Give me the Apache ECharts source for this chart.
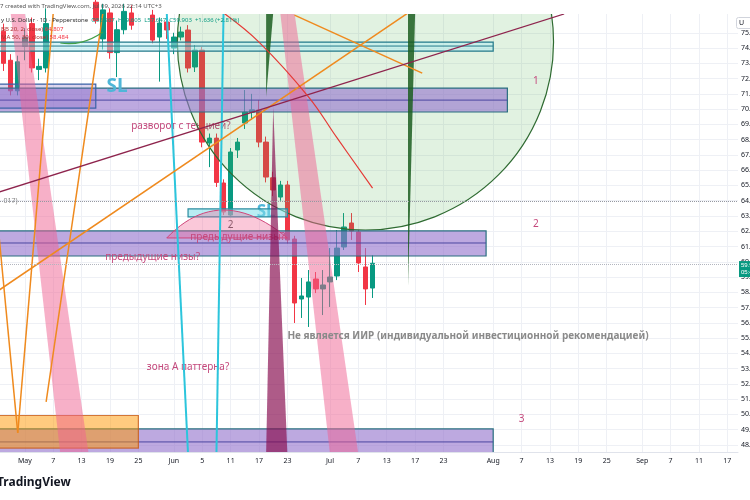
<!DOCTYPE html>
<html>
<head>
<meta charset="utf-8">
<title>U.S. Dollar 1D</title>
<script src="https://cdn.jsdelivr.net/npm/echarts@6.0.0/dist/echarts.min.js"></script>
<style>
html,body{margin:0;padding:0;background:#fff;}
#myChart{width:750px;height:500px;}
</style>
</head>
<body>
<div id="myChart"></div>
<script type="text/javascript">
// time scale: trading days only, starting Apr 28 2026
var firstDay = Date.UTC(2026, 3, 28);
var dayCount = 104;
var tickDates  = ['2026-05-01','2026-05-07','2026-05-13','2026-05-19','2026-05-25','2026-06-01','2026-06-05','2026-06-11','2026-06-17','2026-06-23','2026-07-01','2026-07-07','2026-07-13','2026-07-17','2026-07-23','2026-08-03','2026-08-07','2026-08-13','2026-08-19','2026-08-25','2026-09-01','2026-09-07','2026-09-11','2026-09-17'];
var tickLabels = ['May','7','13','19','25','Jun','5','11','17','23','Jul','7','13','17','23','Aug','7','13','19','25','Sep','7','11','17'];
var priceTicks = [48,49,50,51,52,53,54,55,56,57,58,59,60,61,62,63,64,65,66,67,68,69,70,71,72,73,74,75];

// daily candles [open, close, low, high]
var candles = [
	[75.1,73.0,72.5,75.6],[73.2,71.2,70.9,73.6],[71.2,73.1,70.9,73.5],[74.1,74.7,73.2,75.3],
	[75.6,72.7,72.4,76.0],[72.6,72.8,71.9,73.3],[72.7,75.6,72.4,76.6],[76.5,77.2,76.4,77.8],
	[77.2,76.6,76.4,78.0],[76.6,78.1,76.4,78.6],[78.1,77.4,77.0,78.8],[77.4,76.8,76.5,77.9],
	[76.8,77.5,76.4,78.0],[77.0,75.8,75.6,77.4],[74.6,76.5,73.9,76.9],[76.3,73.7,73.3,76.6],
	[73.7,75.2,72.1,75.8],[75.2,76.4,74.9,76.9],[76.3,75.5,75.2,76.8],[76.4,76.9,76.3,77.3],
	[77.0,76.3,76.25,77.3],[76.16,74.52,74.3,76.5],[74.72,75.64,71.8,76.0],[75.7,75.18,74.6,76.1],
	[74.0,74.72,73.6,75.0],[74.72,75.05,74.5,75.4],[75.18,72.69,72.4,75.5],[72.76,73.87,72.43,74.2],
	[73.87,67.84,67.5,74.07],[67.78,68.1,66.2,68.4],[68.1,65.2,64.9,68.4],[65.16,63.26,63.06,65.4],
	[63.06,67.19,63.0,67.45],[67.32,67.84,66.8,68.11],[69.09,69.8,68.7,71.25],[69.8,69.95,69.3,71.0],
	[69.94,67.84,67.5,70.6],[67.84,65.55,65.2,68.2],[65.5,64.7,64.3,65.9],[64.24,65.03,64.0,65.3],
	[65.03,61.43,61.2,65.3],[61.49,57.3,55.99,61.7],[57.56,57.76,56.32,58.94],[57.69,58.68,55.73,59.46],
	[58.87,58.22,57.95,59.33],[58.22,58.48,56.51,59.46],[58.68,59.0,57.04,60.9],[59.07,60.9,58.8,62.08],
	[60.97,62.28,60.77,63.19],[62.54,62.02,61.43,63.19],[61.95,59.92,59.33,62.08],[59.66,58.22,57.17,60.9],
	[58.28,59.9,57.63,60.44]
];
var lastPrice = 59.903;
var bbUpper = 64.807;
var dottedLevel = 63.98;

// drawings, points as [bar index, price]
var circleCenter = [51.1, 74.4];
var circleEdge   = [51.1, 62.08];
var tealStrip    = [-2, 74.39, 69.26, 73.80, 74.13];
var purpleBoxes  = [[-2, 71.38, 71.37, 69.81, 70.59], [-2, 62.02, 68.27, 60.38, 61.23], [-2, 49.05, 69.26, 46.5, 48.20]];
var slBox        = [-2, 71.64, 13.17, 70.07];
var slSmallBox   = [26.13, 63.46, 40.09, 62.94];
var orangeBox    = [-2, 49.93, 19.23, 47.80];
var pinkBands    = [[[0.63,76.3],[3.02,76.3],[12.18,47.4],[7.96,47.4]], [[39.38,76.3],[41.07,76.3],[49.95,47.4],[46.0,47.4]]];
var maroonBand   = [[38.25,70.14],[40.37,47.4],[37.27,47.4]];
var greenBars    = [[[36.84,76.3],[37.83,76.3],[37.35,70.79],[37.2,70.79]], [[56.86,76.3],[58.12,76.3],[57.35,58.48],[57.2,58.48]]];
var pinkArc      = [[23.18,61.56],[31.49,63.39],[39.66,61.56]];
var cyanLines    = [[[22.89,76.3],[26.28,47.4]], [[31.29,76.3],[29.76,47.4]]];
var orangeLines  = [[[2.18,48.79],[-1.91,68.37]], [[2.18,48.79],[6.83,76.3]], [[6.26,50.82],[13.59,76.3]], [[-1.91,57.71],[57.42,76.3]], [[40.79,76.16],[59.11,72.36]]];
var maroonLine   = [[-1.91,64.37],[79.4,76.23]];
var redCurve     = [[31.2,76.3],[36.14,74.39],[42.76,70.79],[47.41,68.11],[52.35,64.83]];
var bbCurve      = [[8.24,74.33],[10.77,74.39],[13.59,75.05]];

// notes
var coveredNote = [25.3,68.89,'разворот с тенцией?'];
var notes      = [[32.9,61.62,'предыдущие низы?'],[20.92,60.31,'предыдущие низы?'],[26.0,53.11,'зона А паттерна?']];
var zoneMarks  = [[75.18,71.84,'1'],[74.9,62.47,'2'],[72.78,49.70,'3']];
var slMarks    = [[16.13,71.45,'SL'],[36.7,63.26,'SL']];
var smallTwo   = [31.77,62.41,'2'];
var disclaimer = [40.4,55.14,'Не является ИИР (индивидуальной инвестиционной рекомендацией)'];
var oldLabel   = [-0.5,63.98,'017)'];

var days = [];
var cur = new Date(firstDay);
while (days.length < dayCount)
{
	var wd = cur.getUTCDay();
	if (wd !== 0 && wd !== 6) days.push(cur.toISOString().slice(0, 10));
	cur.setUTCDate(cur.getUTCDate() + 1);
}
var tickMap = {};
tickDates.forEach(function (d, i) { tickMap[d] = tickLabels[i]; });

var FONT = '"Noto Sans", "DejaVu Sans", sans-serif';

function textEl(api, t, color, font, align)
{
	var p = api.coord([t[0], t[1]]);
	return {type:'text', x:p[0], y:p[1], style:{text:t[2], fill:color, font:font, align:align || 'center', verticalAlign:'middle'}};
}
function rectEl(api, b, fill, stroke)
{
	var a = api.coord([b[0], b[1]]), z = api.coord([b[2], b[3]]);
	return {type:'rect', shape:{x:a[0], y:a[1], width:z[0]-a[0], height:z[1]-a[1]}, style:{fill:fill, stroke:stroke, lineWidth:1.2}};
}
function hLineEl(api, x1, x2, v, color)
{
	var a = api.coord([x1, v]), z = api.coord([x2, v]);
	return {type:'line', shape:{x1:a[0], y1:a[1], x2:z[0], y2:a[1]}, style:{stroke:color, lineWidth:1}};
}
function polyEl(api, pts, fill)
{
	return {type:'polygon', shape:{points:pts.map(function (p) { return api.coord(p); })}, style:{fill:fill}};
}
function lineEl(api, pts, color, width, smooth)
{
	return {type:'polyline', shape:{points:pts.map(function (p) { return api.coord(p); }), smooth:smooth || 0}, style:{stroke:color, lineWidth:width, fill:null}};
}

// texts that candles cover
function drawLowNotes(params, api)
{
	var kids = [];
	kids.push(textEl(api, coveredNote, '#c4497c', '10px ' + FONT));
	kids.push(textEl(api, slMarks[1], '#4fb6d8', 'bold 17px ' + FONT));
	kids.push(textEl(api, smallTwo, '#555', '10px ' + FONT));
	kids.push(textEl(api, oldLabel, '#888', '7px ' + FONT, 'left'));
	return {type:'group', children:kids};
}

// chart drawings above candles
function drawShapes(params, api)
{
	var kids = [];
	var c = api.coord(circleCenter), e = api.coord(circleEdge);
	kids.push({type:'circle', shape:{cx:c[0], cy:c[1], r:Math.abs(e[1]-c[1])}, style:{fill:'rgba(76,175,80,0.17)', stroke:'#2f6b32', lineWidth:1.2}});

	kids.push(rectEl(api, tealStrip, 'rgba(178,235,242,0.5)', '#23798a'));
	kids.push(hLineEl(api, tealStrip[0], tealStrip[2], tealStrip[4], '#23798a'));

	purpleBoxes.forEach(function (b) {
		kids.push(rectEl(api, b, 'rgba(149,117,205,0.62)', '#2a6f80'));
		kids.push(hLineEl(api, b[0], b[2], b[4], '#4b46a0'));
	});
	kids.push(rectEl(api, slBox, 'rgba(120,90,190,0.25)', '#3a62a6'));
	kids.push(rectEl(api, slSmallBox, 'rgba(128,222,234,0.55)', '#2a8ca0'));
	kids.push(rectEl(api, orangeBox, 'rgba(255,152,0,0.5)', 'rgba(200,90,20,0.8)'));

	// arc under the "2"
	var a0 = api.coord(pinkArc[0]), a1 = api.coord(pinkArc[1]), a2 = api.coord(pinkArc[2]);
	var cpx = 2 * a1[0] - (a0[0] + a2[0]) / 2, cpy = 2 * a1[1] - (a0[1] + a2[1]) / 2;
	var arcPts = [];
	for (var k = 0; k <= 24; k++)
	{
		var t = k / 24, u = 1 - t;
		arcPts.push([u*u*a0[0] + 2*u*t*cpx + t*t*a2[0], u*u*a0[1] + 2*u*t*cpy + t*t*a2[1]]);
	}
	kids.push({type:'polygon', shape:{points:arcPts}, style:{fill:'rgba(240,98,146,0.35)', stroke:'#d0457a', lineWidth:1}});

	notes.forEach(function (t) { kids.push(textEl(api, t, '#c4497c', '10px ' + FONT)); });

	pinkBands.forEach(function (b) { kids.push(polyEl(api, b, 'rgba(240,98,146,0.5)')); });
	kids.push(polyEl(api, maroonBand, 'rgba(136,14,79,0.68)'));
	greenBars.forEach(function (b) { kids.push(polyEl(api, b, 'rgba(27,94,32,0.85)')); });

	cyanLines.forEach(function (l) { kids.push(lineEl(api, l, '#2cc5dc', 2)); });
	orangeLines.forEach(function (l) { kids.push(lineEl(api, l, '#ef8a1e', 1.5)); });
	kids.push(lineEl(api, maroonLine, '#8e244d', 1.3));
	kids.push(lineEl(api, redCurve, '#e53935', 1.2, 0.4));
	kids.push(lineEl(api, bbCurve, '#43a047', 1.2, 0.5));

	kids.push(textEl(api, slMarks[0], '#4fb6d8', 'bold 19px ' + FONT));
	zoneMarks.forEach(function (t) { kids.push(textEl(api, t, '#c4497c', '10px ' + FONT)); });
	kids.push(textEl(api, disclaimer, '#8a8a8a', 'bold 10px ' + FONT, 'left'));
	return {type:'group', children:kids};
}

var option = {
	animation:false,
	backgroundColor:'#ffffff',
	grid:{left:0, right:12, top:14, bottom:48, outerBoundsMode:'none', containLabel:false},
	xAxis:{
		type:'category',
		data:days,
		boundaryGap:true,
		axisLine:{lineStyle:{color:'#e0e3eb'}},
		axisTick:{show:false},
		axisLabel:{
			interval:function (i, v) { return tickMap[v] !== undefined; },
			formatter:function (v) { return tickMap[v] || ''; },
			color:'#131722', fontSize:7, margin:5, fontFamily:FONT
		},
		splitLine:{show:true, alignWithLabel:true, interval:function (i, v) { return tickMap[v] !== undefined; }, lineStyle:{color:'#eef0f5'}}
	},
	yAxis:{
		type:'value',
		position:'right',
		min:47.54,
		max:76.23,
		axisLine:{show:false},
		axisTick:{show:false, customValues:priceTicks},
		axisLabel:{customValues:priceTicks, formatter:function (v) { return v.toFixed(2); }, color:'#131722', fontSize:7, margin:3, fontFamily:FONT},
		splitLine:{show:true, lineStyle:{color:'#eef0f5'}}
	},
	graphic:[
		{type:'text', left:0, top:3, style:{text:'7 created with TradingView.com, Jul 09, 2026 22:14 UTC+3', fill:'#555', font:'6px ' + FONT}, z:50},
		{type:'text', left:1, top:17, style:{text:'{a|y U.S. Dollar · 1D · Pepperstone}  {b|O58.267  H59.605  L57.647  C59.903  +1.636 (+2.81%)}', font:'6px ' + FONT, rich:{a:{fill:'#333', font:'6px ' + FONT}, b:{fill:'#089981', font:'6px ' + FONT}}}, z:50},
		{type:'text', left:1, top:26, style:{text:'{a|BB 20, 2, close)} {b|64.807}', font:'6px ' + FONT, rich:{a:{fill:'#b03030', font:'6px ' + FONT}, b:{fill:'#f23645', font:'6px ' + FONT}}}, z:50},
		{type:'text', left:1, top:34, style:{text:'{a|MA 50, 30, close)} {b|58.484}', font:'6px ' + FONT, rich:{a:{fill:'#b03030', font:'6px ' + FONT}, b:{fill:'#f23645', font:'6px ' + FONT}}}, z:50},
		{type:'rect', left:736, top:17, shape:{width:16, height:11, r:2}, style:{fill:'#fff', stroke:'#d1d4dc'}, z:50},
		{type:'text', left:739, top:19, style:{text:'U', fill:'#131722', font:'7px ' + FONT}, z:51},
		{type:'text', left:-3, top:477, style:{text:'TradingView', fill:'#131722', font:'bold 12px ' + FONT}, z:50}
	],
	series:[
		{
			type:'custom', z:1, clip:true,
			renderItem:drawLowNotes,
			data:[[0, 60]], silent:true
		},
		{
			type:'candlestick', z:2,
			data:candles,
			barWidth:5,
			itemStyle:{color:'#089981', color0:'#f23645', borderColor:'#089981', borderColor0:'#f23645', borderWidth:1},
			markLine:{
				silent:true, symbol:['none','none'],
				data:[
					{yAxis:dottedLevel, lineStyle:{color:'#9598a1', type:'dotted', width:1}, label:{show:false}},
					{yAxis:lastPrice - 0.05, lineStyle:{color:'#b2b5be', type:'dotted', width:1}, label:{show:true, position:'end', distance:1, formatter:lastPrice.toFixed(3) + '\n05:45:12', backgroundColor:'#089981', color:'#fff', fontSize:6, lineHeight:7, padding:[1,2], offset:[0,5]}},
					{yAxis:bbUpper, lineStyle:{opacity:0}, label:{show:true, position:'end', distance:1, formatter:bbUpper.toFixed(3), backgroundColor:'#f23645', color:'#fff', fontSize:6, padding:[2,2]}}
				]
			}
		},
		{
			type:'custom', z:3, clip:true,
			renderItem:drawShapes,
			data:[[0, 60]], silent:true
		}
	]
};
var myChart = echarts.init(document.getElementById('myChart'));
myChart.setOption(option);
</script>
</body>
</html>
